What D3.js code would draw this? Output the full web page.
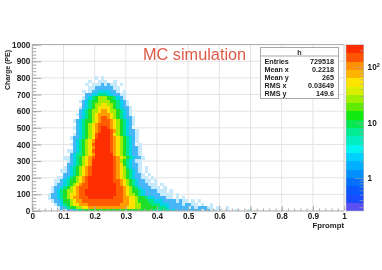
<!DOCTYPE html>
<html lang="en">
<head>
<meta charset="UTF-8">
<title>Fprompt vs Charge</title>
<style>
    body { margin: 0; background: #fff; font-family: "Liberation Sans", Arial, sans-serif; }
    svg { display: block; filter: blur(0.45px); }
    .axis path { display: none; }
    .axis line { stroke: #a8a8a8; }
    .axis text { font: bold 8.2px "Liberation Sans", Arial, sans-serif; fill: #222; }
    .stat { font: bold 7.2px "Liberation Sans", Arial, sans-serif; fill: #222; }
</style>
</head>
<body>
<svg id="chart" width="382" height="270"></svg>
<script src="https://d3js.org/d3.v7.min.js"></script>
<script>
// one string per charge bin, one char per 0.01 of Fprompt from 0.05
const firstFprompt = 0.05;
const binX = 0.01;
const binY = 20;
const chargeBins = [800, 780, 760, 740, 720, 700, 680, 660, 640, 620, 600, 580, 560, 540, 520, 500, 480, 460, 440, 420,
    400, 380, 360, 340, 320, 300, 280, 260, 240, 220, 200, 180, 160, 140, 120, 100, 80, 60, 40, 20, 0];
const cellRows = [
    "...............0.0",
    ".............0..000..0",
    "............0.00010100.0",
    ".............0011111100",
    "...........0.0112222110.0",
    "............1122333221100",
    "...........01234555443210",
    "..........0123445555443210",
    "...........123455665543210",
    "..........01234566665432110",
    "..........12345567765543210",
    ".........012345677776543210",
    "..........123456788765432110",
    "........01234456788876543210",
    ".........1234567888876543210",
    "........0123456789987654321.",
    ".........12345678999875432110",
    "........012345689999865432110",
    ".......0112345689999876543210",
    "........123456799999876543210",
    ".......012345689999987654321.0",
    "........1234567999998765432110",
    "......001234568999998765432110",
    ".......12334567999999765432110",
    ".....00123456789999998765432110",
    "......012345679999999875432100",
    "......112345679999999876432110",
    ".....0123456789999999876532110.0",
    "....00123456789999999876543210.0",
    ".....11234567899999998765432110.0",
    "...00123456789999999987654321100.0",
    "..0012344567899999999887654321100.0",
    "..011234567889999999998765432111000.0",
    ".01123456788899999999988765432111000.0",
    ".0123455678899999999998876544321111000.0",
    "0112345667889999999999887655432111110000.0",
    "0112345677888999999998887766544322111100.0.0",
    ".01124456778888888888888776654443322211110100.0.0",
    "..0123456677788888888887776655444333222111101100.0..0",
    "...01234455667777777777776665544444333211111101011100.0..0",
    ".....0112334444444444444444444444333333221111111101100.0.0..0...0"
];
const levelColors = ["#c6e9fb", "#45b6f8", "#00d4e6", "#00e48c", "#1ede2a", "#a2ec00", "#ffe200", "#ff9c00", "#ff5c00", "#ff2e00"];

const xTicks = [0, 0.1, 0.2, 0.3, 0.4, 0.5, 0.6, 0.7, 0.8, 0.9, 1];
const yTicks = [0, 100, 200, 300, 400, 500, 600, 700, 800, 900, 1000];
const zTicks = [1, 10, 100];
const zMinor = [0.3, 0.4, 0.5, 0.6, 0.7, 0.8, 0.9, 2, 3, 4, 5, 6, 7, 8, 9, 20, 30, 40, 50, 60, 70, 80, 90, 200];
const zRange = [0.254, 254];
const paletteColors = ["#5a50f4", "#1a4cff", "#0a58ff", "#0070ff", "#0090ff", "#00b0ff", "#00d0ff", "#00f4f0", "#00eec0", "#00ec90",
    "#00ea50", "#10ea10", "#60ec00", "#a0ee00", "#d8f000", "#ffe400", "#ffb400", "#ff9000", "#ff5400", "#ff2c00"];
const statLabels = ["Entries", "Mean x", "Mean y", "RMS x", "RMS y"];
const statValues = ["729518", "0.2218", "265", "0.03649", "149.6"];

const svg = d3.select("#chart");
const x = d3.scaleLinear().domain([0, 1]).range([32.3, 344]);
const y = d3.scaleLinear().domain([0, 1000]).range([211, 44.6]);
const z = d3.scaleLog().domain(zRange).range([211, 44.6]);

// grid
svg.append("g").selectAll("line").data(xTicks.slice(1, -1)).enter().append("line")
    .attr("x1", d => x(d)).attr("x2", d => x(d)).attr("y1", y(0)).attr("y2", y(1000))
    .attr("stroke", "#e4e4e4").attr("stroke-width", 1);
svg.append("g").selectAll("line").data(yTicks.slice(1, -1)).enter().append("line")
    .attr("x1", x(0)).attr("x2", x(1)).attr("y1", d => y(d)).attr("y2", d => y(d))
    .attr("stroke", "#e4e4e4").attr("stroke-width", 1);

// heat map cells, chargeBins are the bin centres
const cells = [];
cellRows.forEach((row, r) => {
    row.split("").forEach((c, i) => {
        if (c !== ".") cells.push({ f: firstFprompt + i * binX, q: chargeBins[r], level: +c });
    });
});
svg.append("g").attr("shape-rendering", "crispEdges")
    .selectAll("rect").data(cells).enter().append("rect")
    .attr("x", d => x(d.f))
    .attr("y", d => y(d.q + binY / 2))
    .attr("width", x(binX) - x(0) + 0.3)
    .attr("height", d => y(Math.max(d.q - binY / 2, 0)) - y(d.q + binY / 2) + 0.2)
    .attr("fill", d => levelColors[d.level]);

// axes
const xAxis = svg.append("g").attr("class", "axis").attr("transform", "translate(0," + y(0) + ")");
xAxis.call(d3.axisBottom(x).tickValues(d3.range(0, 1.001, 0.02)).tickSize(-2.5).tickFormat(""));
const xMajor = svg.append("g").attr("class", "axis").attr("transform", "translate(0," + y(0) + ")");
xMajor.call(d3.axisBottom(x).tickValues(xTicks).tickSize(-5).tickPadding(2).tickFormat(d3.format("~g")));

const yAxis = svg.append("g").attr("class", "axis").attr("transform", "translate(" + x(0) + ",0)");
yAxis.call(d3.axisLeft(y).tickValues(d3.range(0, 1001, 20)).tickSize(-4).tickFormat(""));
const yMajor = svg.append("g").attr("class", "axis").attr("transform", "translate(" + x(0) + ",0)");
yMajor.call(d3.axisLeft(y).tickValues(yTicks).tickSize(-9).tickPadding(2).tickFormat(d3.format("d")));

svg.append("line").attr("x1", x(0)).attr("x2", x(1)).attr("y1", y(1000)).attr("y2", y(1000)).attr("stroke", "#a8a8a8");
svg.append("line").attr("x1", x(0)).attr("x2", x(1)).attr("y1", y(0)).attr("y2", y(0)).attr("stroke", "#a8a8a8");
svg.append("line").attr("x1", x(0)).attr("x2", x(0)).attr("y1", y(0)).attr("y2", y(1000)).attr("stroke", "#a8a8a8");
svg.append("line").attr("x1", x(1)).attr("x2", x(1)).attr("y1", y(0)).attr("y2", y(1000)).attr("stroke", "#cccccc");

svg.append("text").attr("x", 344).attr("y", 228).attr("text-anchor", "end")
    .attr("font-size", 7.8).attr("font-weight", "bold").attr("fill", "#222").text("Fprompt");
svg.append("text").attr("transform", "translate(9.5,50) rotate(-90)").attr("text-anchor", "end")
    .attr("font-size", 7).attr("font-weight", "bold").attr("fill", "#222").text("Charge (PE)");

svg.append("text").attr("x", 143).attr("y", 59.5).attr("font-size", 16.3).attr("fill", "#de5a47").text("MC simulation");

// stats box
const box = svg.append("g");
box.append("rect").attr("x", 260.5).attr("y", 47.5).attr("width", 78).attr("height", 51)
    .attr("fill", "#fff").attr("stroke", "#a8a8a8");
box.append("line").attr("x1", 260.5).attr("x2", 338.5).attr("y1", 56).attr("y2", 56).attr("stroke", "#a8a8a8");
box.append("text").attr("class", "stat").attr("x", 299.5).attr("y", 54.5).attr("text-anchor", "middle").text("h");
const statY = d3.scalePoint().domain(statLabels).range([63.5, 95.5]);
box.selectAll(".lab").data(statLabels).enter().append("text").attr("class", "stat lab")
    .attr("x", 264.5).attr("y", d => statY(d)).text(d => d);
box.selectAll(".val").data(statLabels).enter().append("text").attr("class", "stat val")
    .attr("x", 334).attr("y", d => statY(d)).attr("text-anchor", "end").text((d, i) => statValues[i]);

// palette
const bandY = d3.scaleBand().domain(d3.range(paletteColors.length)).range([211, 44.6]);
svg.append("g").attr("shape-rendering", "crispEdges").selectAll("rect").data(paletteColors).enter().append("rect")
    .attr("x", 346).attr("width", 17.6)
    .attr("y", (d, i) => bandY(i)).attr("height", bandY.bandwidth() + 0.3)
    .attr("fill", d => d);
svg.append("rect").attr("x", 346).attr("y", 44.6).attr("width", 17.6).attr("height", 166.4)
    .attr("fill", "none").attr("stroke", "#bbb").attr("stroke-width", 0.6);

const zAxisMinor = svg.append("g").attr("class", "axis").attr("transform", "translate(363.6,0)");
zAxisMinor.call(d3.axisRight(z).tickValues(zMinor).tickSize(-4).tickFormat(""));
const zAxis = svg.append("g").attr("class", "axis").attr("transform", "translate(363.6,0)");
zAxis.call(d3.axisRight(z).tickValues(zTicks).tickSize(-9).tickPadding(4).tickFormat(d => d === 100 ? "" : d));
zAxis.selectAll("line").attr("stroke", "#56563a").attr("stroke-opacity", 0.6);
zAxisMinor.selectAll("line").attr("stroke", "#56563a").attr("stroke-opacity", 0.6);
const hundred = svg.append("text").attr("x", 367.6).attr("y", z(100) + 3).attr("font-size", 8.2).attr("font-weight", "bold").attr("fill", "#222");
hundred.append("tspan").text("10");
hundred.append("tspan").attr("dy", -3).attr("font-size", 5.5).text("2");
</script>
</body>
</html>
